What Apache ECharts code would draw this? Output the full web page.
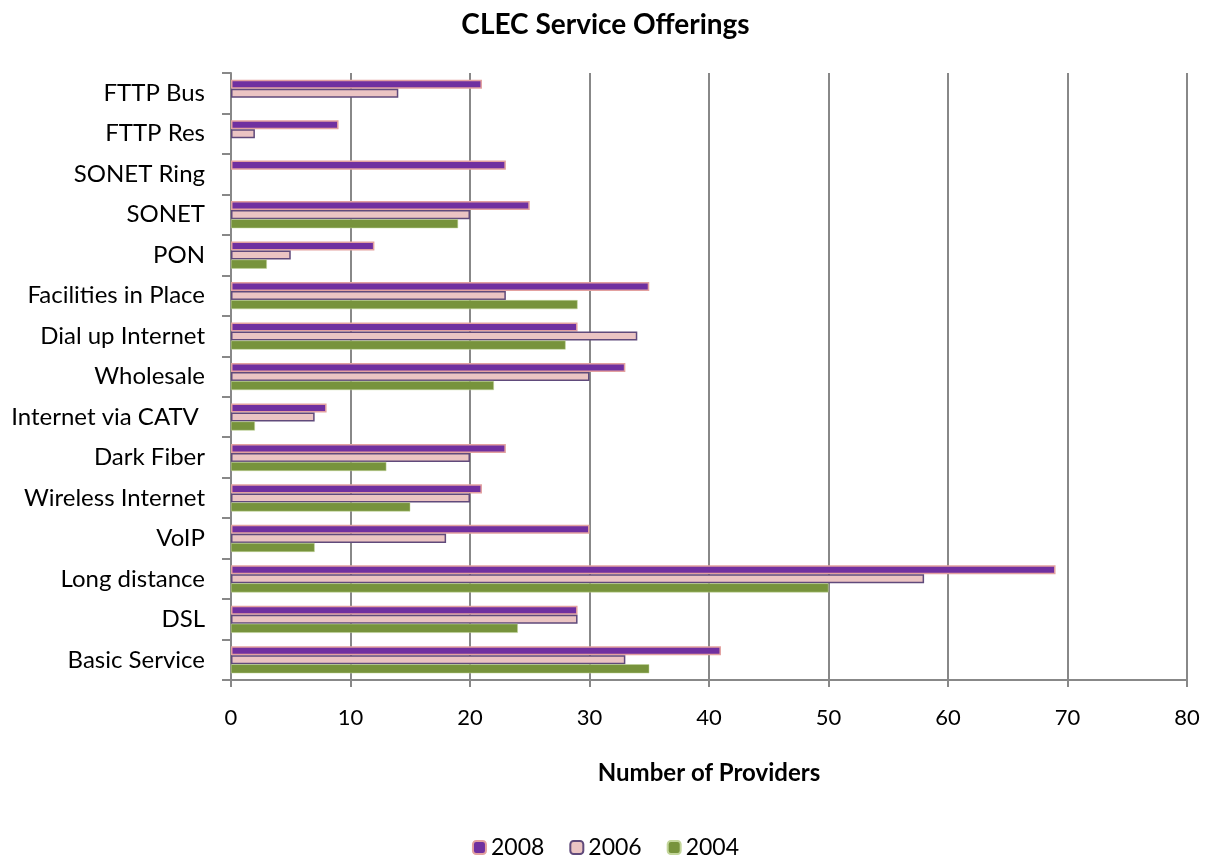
<!DOCTYPE html>
<html><head><meta charset="utf-8">
<script src="https://cdn.jsdelivr.net/npm/echarts@6/dist/echarts.min.js"></script>
<style>html,body{margin:0;padding:0;background:#fff}#c{width:1211px;height:861px}</style>
</head><body><div id="c"></div>
<script>
const categories = ["Basic Service","DSL","Long distance","VoIP","Wireless Internet","Dark Fiber","Internet via CATV ","Wholesale","Dial up Internet","Facilities in Place","PON","SONET","SONET Ring","FTTP Res","FTTP Bus"];
const s2008 = [41,29,69,30,21,23,8,33,29,35,12,25,23,9,21];
const s2006 = [33,29,58,18,20,20,7,30,34,23,5,20,null,2,14];
const s2004 = [35,24,50,7,15,13,2,22,28,29,3,19,null,null,null];
const xTicks = [0,10,20,30,40,50,60,70,80];

const font = "Lato, 'Open Sans', sans-serif";
const chart = echarts.init(document.getElementById('c'), null, {renderer:'canvas'});
chart.setOption({
  animation:false,
  title:{text:'CLEC Service Offerings',left:'center',top:6,textStyle:{fontFamily:font,fontSize:28,fontWeight:'bold',color:'#000'}},
  legend:{top:831,left:'center',data:['2008','2006','2004'],itemWidth:13,itemHeight:13,itemGap:25,
    textStyle:{fontFamily:font,fontSize:23,color:'#000'}},
  grid:{left:231,right:24,top:73,bottom:181,containLabel:false},
  xAxis:{type:'value',min:0,max:80,interval:10,
    name:'Number of Providers',nameLocation:'middle',nameGap:81,
    nameTextStyle:{fontFamily:font,fontSize:24,fontWeight:'bold',color:'#000'},
    axisLine:{show:true,lineStyle:{color:'#888',width:2}},
    axisTick:{show:true,length:7,lineStyle:{color:'#888',width:2}},
    axisLabel:{fontFamily:font,fontSize:22,color:'#000',margin:27,formatter:v=>xTicks.includes(v)?String(v):''},
    splitLine:{show:true,lineStyle:{color:'#888',width:2}}},
  yAxis:{type:'category',data:categories,
    axisLine:{show:true,lineStyle:{color:'#888',width:2}},
    axisTick:{show:true,length:9,lineStyle:{color:'#888',width:2}},
    axisLabel:{fontFamily:font,fontSize:24,color:'#000',margin:26}},
  series:[
    {name:'2008',type:'bar',data:s2008,barGap:'0%',barCategoryGap:'33%',
      itemStyle:{color:'#7030A0',borderColor:'#E3A1A0',borderWidth:1.5}},
    {name:'2006',type:'bar',data:s2006,barGap:'0%',barCategoryGap:'33%',
      itemStyle:{color:'#EBC4C3',borderColor:'#604A7B',borderWidth:1.5}},
    {name:'2004',type:'bar',data:s2004,barGap:'0%',barCategoryGap:'33%',
      itemStyle:{color:'#77933C',borderColor:'#C3D69B',borderWidth:0.5}}
  ]
});
</script></body></html>
